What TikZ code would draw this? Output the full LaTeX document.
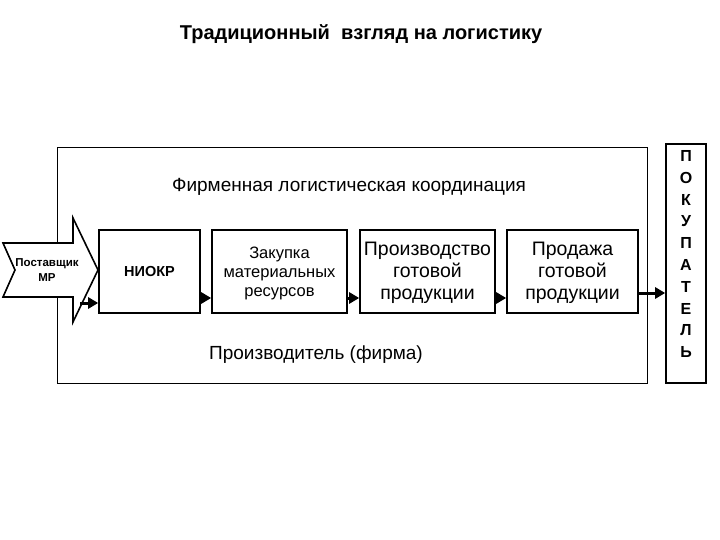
\documentclass[tikz,border=0pt]{standalone}
\usepackage{fontspec}
\setmainfont{Liberation Sans}
\usetikzlibrary{arrows.meta}
\tikzset{
  blk/.style={draw, line width=1.6pt, inner sep=0pt, align=center},
  arr/.style={line width=3pt, -{Triangle[length=10pt,width=11pt]}},
  lbl/.style={inner sep=0pt, align=center},
}
\begin{document}
\begin{tikzpicture}[x=1pt,y=-1pt]
\useasboundingbox (0,0) rectangle (720,540);
% title
\node[lbl, font=\bfseries\fontsize{20}{22}\selectfont] (title) at (361,34) {Традиционный\ \ взгляд на логистику};
% outer frame
\node[draw, line width=0.9pt, minimum width=590pt, minimum height=236pt, inner sep=0pt] (frame) at (352,265) {};
\node[lbl, font=\fontsize{19}{22}\selectfont] (coord) at (349,187) {Фирменная логистическая координация};
\node[lbl, font=\fontsize{19}{22}\selectfont] (firm) at (316,355) {Производитель (фирма)};
% supplier arrow
\draw[line width=1.6pt, fill=white, line join=miter] (3,243) -- (73,243) -- (73,218) -- (98,270) -- (73,322) -- (73,297) -- (3,297) -- (15,270) -- cycle;
\node[lbl, font=\bfseries\fontsize{11.5}{15}\selectfont] (supp) at (47,270) {Поставщик\\МР};
% boxes
\node[blk, minimum width=101pt, minimum height=83pt, font=\bfseries\fontsize{14.5}{22}\selectfont] (niokr) at (149.5,271.5) {НИОКР};
\node[blk, minimum width=135pt, minimum height=83pt] (zak) at (279.5,271.5) {};
\node[lbl, font=\fontsize{16.5}{19}\selectfont] (zaktxt) at (279.5,273) {Закупка\\материальных\\ресурсов};
\node[blk, minimum width=135pt, minimum height=83pt] (proizv) at (427.5,271.5) {};
\node[lbl, font=\fontsize{19.5}{22}\selectfont] (proizvtxt) at (427.5,273) {Производство\\готовой\\продукции};
\node[blk, minimum width=131pt, minimum height=83pt] (prod) at (572.5,271.5) {};
\node[lbl, font=\fontsize{19.5}{22}\selectfont] (prodtxt) at (572.5,273) {Продажа\\готовой\\продукции};
\node[blk, minimum width=40pt, minimum height=239pt] (buyer) at (686,263.5) {};
\node[lbl, font=\bfseries\fontsize{16}{21.8}\selectfont] (buyertxt) at (686,254) {П\\О\\К\\У\\П\\А\\Т\\Е\\Л\\Ь};
% connectors
\coordinate (a0) at (80,303);
\coordinate (ay) at (0,298);
\coordinate (by) at (0,293);
\draw[arr] (a0) -- (niokr.west |- a0);
\draw[arr] (niokr.east |- ay) -- (zak.west |- ay);
\draw[arr] (zak.east |- ay) -- (proizv.west |- ay);
\draw[arr] (proizv.east |- ay) -- (prod.west |- ay);
\draw[arr] (prod.east |- by) -- (buyer.west |- by);
\end{tikzpicture}
\end{document}
